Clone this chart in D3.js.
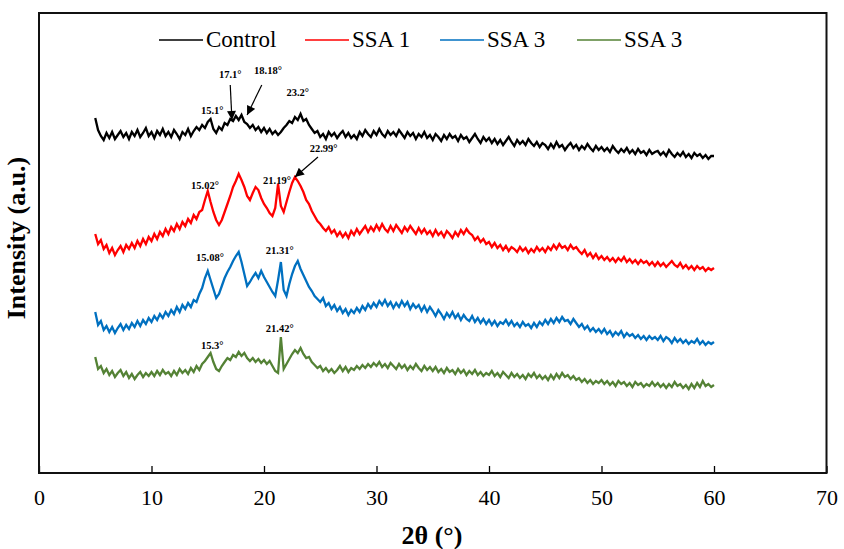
<!DOCTYPE html>
<html>
<head>
<meta charset="utf-8">
<script src="https://cdnjs.cloudflare.com/ajax/libs/d3/7.8.5/d3.min.js"></script>
<style>
  body { margin: 0; background: #fff; }
  text { font-family: "Liberation Serif", "Times New Roman", serif; }
</style>
</head>
<body>
<svg id="chart" width="844" height="549"></svg>
<script>
// scan grid, 5 to 60 deg at 0.25 deg
const twoTheta = d3.range(0, 221).map(i => 5 + i * 0.25);

// stacked intensities (a.u.)
const controlI = [
  352,340,334,330,337,332,338,331,335,339,333,337,331,338,334,340,333,337,342,334,
  338,332,339,335,341,334,338,333,340,336,331,338,335,341,334,339,343,340,345,342,
  348,351,341,337,343,340,347,345,351,349,354,350,355,348,346,342,345,340,343,338,
  342,337,341,336,339,335,338,342,345,349,347,353,350,356,349,351,345,341,337,339,
  333,336,331,338,334,337,332,336,339,333,337,332,335,331,338,334,340,336,333,339,
  335,341,336,333,339,335,338,334,340,336,332,338,334,337,331,336,333,338,332,335,
  330,336,333,329,335,331,336,332,334,329,335,331,333,328,332,336,331,327,333,329,
  332,327,331,326,330,325,329,333,328,324,330,326,329,325,331,327,324,328,323,327,
  325,321,326,322,328,323,325,320,324,327,322,325,320,324,321,326,322,319,324,320,
  323,319,322,318,324,320,317,321,318,322,317,320,316,321,317,319,315,320,316,318,
  319,315,318,314,320,316,313,317,314,318,313,316,312,317,314,316,312,315,311,314,
  314
];
const ssa1I = [
  236,226,230,221,225,217,222,215,220,224,218,225,221,227,222,229,224,231,226,233,
  229,236,231,238,234,241,236,243,239,246,241,248,244,251,247,255,251,258,260,270,
  279,268,258,250,245,250,258,266,274,283,289,296,290,283,274,270,277,283,280,272,
  266,262,257,254,262,286,264,258,268,278,287,293,289,284,278,270,266,259,254,249,
  246,242,239,243,237,240,234,238,233,237,232,239,235,241,236,240,244,238,243,239,
  245,240,246,241,238,244,239,245,241,237,243,239,244,240,236,242,237,241,236,239,
  234,240,235,238,233,239,236,232,238,234,240,236,241,237,235,230,233,228,231,226,
  228,223,227,222,225,220,224,219,223,221,218,223,219,222,217,221,218,223,219,222,
  218,223,220,225,221,226,222,224,220,225,221,223,219,216,220,214,217,212,216,211,
  214,210,213,209,212,208,212,209,213,208,211,207,210,206,210,207,209,205,208,204,
  208,204,207,203,206,209,205,203,207,202,205,201,204,200,204,201,203,199,202,200,
  202
];
const ssa3aI = [
  158,145,149,140,144,138,143,137,142,146,140,145,141,147,143,149,144,150,146,152,
  148,154,150,156,152,158,154,160,156,163,158,165,161,167,163,170,168,176,182,192,
  199,190,181,172,176,184,192,198,203,209,214,218,208,196,184,188,193,197,192,199,
  193,188,183,178,174,190,208,180,174,186,196,204,209,201,195,189,183,179,174,171,
  168,172,164,167,161,165,159,163,157,161,155,160,157,162,158,164,160,166,162,167,
  163,169,165,170,164,168,162,167,163,169,164,168,161,166,162,165,159,164,158,163,
  159,154,160,156,151,157,153,158,152,156,150,155,151,149,154,148,152,147,151,146,
  150,145,149,144,148,146,150,145,149,144,147,143,148,144,146,142,147,143,148,145,
  150,146,151,147,152,148,153,149,150,146,151,147,143,146,141,144,139,142,138,141,
  137,141,136,139,134,138,135,139,133,137,134,136,132,135,131,134,130,134,131,133,
  130,134,129,133,131,127,132,128,131,127,130,126,129,127,131,126,129,125,128,126,
  128
];
const ssa3bI = [
  113,101,104,97,101,95,99,93,97,100,94,98,92,96,91,95,98,93,97,94,
  98,94,99,95,100,96,98,94,99,95,101,97,100,96,102,98,104,100,106,109,
  113,117,108,101,99,104,108,112,110,115,113,118,114,117,112,109,112,108,111,107,
  110,106,109,104,99,97,133,101,106,111,116,120,117,122,116,112,113,108,105,102,
  104,99,102,98,101,97,100,104,99,103,98,102,100,104,101,105,102,106,103,107,
  104,108,103,106,102,107,104,101,106,102,105,100,104,101,106,102,99,104,100,103,
  99,103,98,101,97,102,98,100,96,101,97,100,95,99,96,100,95,98,94,97,
  95,99,94,97,93,98,95,92,97,93,96,92,95,91,96,93,97,92,95,91,
  94,90,95,91,96,92,97,93,95,91,94,90,92,88,91,87,90,86,89,87,
  90,86,89,85,88,84,89,86,88,84,87,83,88,85,87,83,86,84,88,84,
  87,83,86,82,86,83,88,84,86,82,85,81,86,82,87,83,89,84,86,83,
  85
];

const seriesNames = ['Control', 'SSA 1', 'SSA 3', 'SSA 3'];
const seriesColors = ['#000000', '#ff0000', '#0070c0', '#548235'];
const seriesValues = [controlI, ssa1I, ssa3aI, ssa3bI];
const xTicks = [0, 10, 20, 30, 40, 50, 60, 70];

// peak labels and arrows, in data units
const peakLabels = [
  { t: '15.1°', x: 15.4, y: 360 },
  { t: '17.1°', x: 17.0, y: 396 },
  { t: '18.18°', x: 20.35, y: 400 },
  { t: '23.2°', x: 23.0, y: 378 },
  { t: '22.99°', x: 25.3, y: 322 },
  { t: '15.02°', x: 14.75, y: 285 },
  { t: '21.19°', x: 21.15, y: 290 },
  { t: '15.08°', x: 15.2, y: 213 },
  { t: '21.31°', x: 21.4, y: 220 },
  { t: '15.3°', x: 15.4, y: 125 },
  { t: '21.42°', x: 21.4, y: 142 }
];
const peakArrows = [
  { x1: 17.0, y1: 385, x2: 17.15, y2: 350 },
  { x1: 19.8, y1: 385, x2: 18.5, y2: 355 },
  { x1: 24.8, y1: 313, x2: 22.75, y2: 293 }
];

const svg = d3.select('#chart');
const margin = { left: 39, top: 13 };
const width = 787.5;
const height = 460;

const x = d3.scaleLinear().domain([0, 70]).range([0, width]);
const y = d3.scaleLinear().domain([-3, 457]).range([height, 0]);

const g = svg.append('g')
  .attr('transform', `translate(${margin.left},${margin.top})`);

svg.append('defs').append('marker')
  .attr('id', 'head')
  .attr('markerUnits', 'userSpaceOnUse')
  .attr('viewBox', '0 0 10 10')
  .attr('refX', 10).attr('refY', 5)
  .attr('markerWidth', 11).attr('markerHeight', 9)
  .attr('orient', 'auto')
  .append('path')
    .attr('d', 'M0,0 L10,5 L0,10 Z')
    .attr('fill', '#000');

// x axis, ticks pointing inward
const xAxis = g.append('g')
  .attr('transform', `translate(0,${height})`)
  .call(d3.axisBottom(x).tickValues(xTicks).tickSizeInner(-7).tickSizeOuter(0).tickPadding(16));
xAxis.select('.domain').remove();
xAxis.selectAll('line').attr('stroke', '#000').attr('stroke-width', 1.3);
xAxis.selectAll('text')
  .attr('font-size', 22)
  .attr('fill', '#000')
  .style('font-family', '"Liberation Serif", "Times New Roman", serif');

const line = d3.line()
  .x((d, i) => x(twoTheta[i]))
  .y(d => y(d));

g.append('g')
  .attr('class', 'lines')
  .selectAll('path')
  .data(seriesValues)
  .enter().append('path')
    .attr('d', line)
    .attr('fill', 'none')
    .attr('stroke', (d, i) => seriesColors[i])
    .attr('stroke-width', 2.3)
    .attr('stroke-linejoin', 'miter');

// frame
g.append('rect')
  .attr('width', width)
  .attr('height', height)
  .attr('fill', 'none')
  .attr('stroke', '#111')
  .attr('stroke-width', 2);

g.append('g')
  .selectAll('line')
  .data(peakArrows)
  .enter().append('line')
    .attr('x1', d => x(d.x1)).attr('y1', d => y(d.y1))
    .attr('x2', d => x(d.x2)).attr('y2', d => y(d.y2))
    .attr('stroke', '#000')
    .attr('stroke-width', 1.2)
    .attr('marker-end', 'url(#head)');

g.append('g')
  .selectAll('text')
  .data(peakLabels)
  .enter().append('text')
    .attr('x', d => x(d.x))
    .attr('y', d => y(d.y))
    .attr('dy', '0.35em')
    .attr('text-anchor', 'middle')
    .attr('font-size', 10.5)
    .attr('font-weight', 'bold')
    .text(d => d.t);

// legend
const legendX = [159, 305, 440, 577];
const legend = svg.append('g')
  .selectAll('g')
  .data(seriesNames)
  .enter().append('g')
    .attr('transform', (d, i) => `translate(${legendX[i]},40)`);
legend.append('line')
  .attr('x1', 0).attr('x2', 44)
  .attr('stroke', (d, i) => seriesColors[i])
  .attr('stroke-width', 1.5);
legend.append('text')
  .attr('x', 47)
  .attr('y', 7)
  .attr('font-size', 23)
  .text(d => d);

// axis titles
svg.append('text')
  .attr('x', 432)
  .attr('y', 544)
  .attr('text-anchor', 'middle')
  .attr('font-size', 26)
  .attr('font-weight', 'bold')
  .text('2θ (°)');

svg.append('text')
  .attr('transform', 'translate(25,238) rotate(-90)')
  .attr('text-anchor', 'middle')
  .attr('font-size', 26)
  .attr('font-weight', 'bold')
  .text('Intensity (a.u.)');
</script>
</body>
</html>
